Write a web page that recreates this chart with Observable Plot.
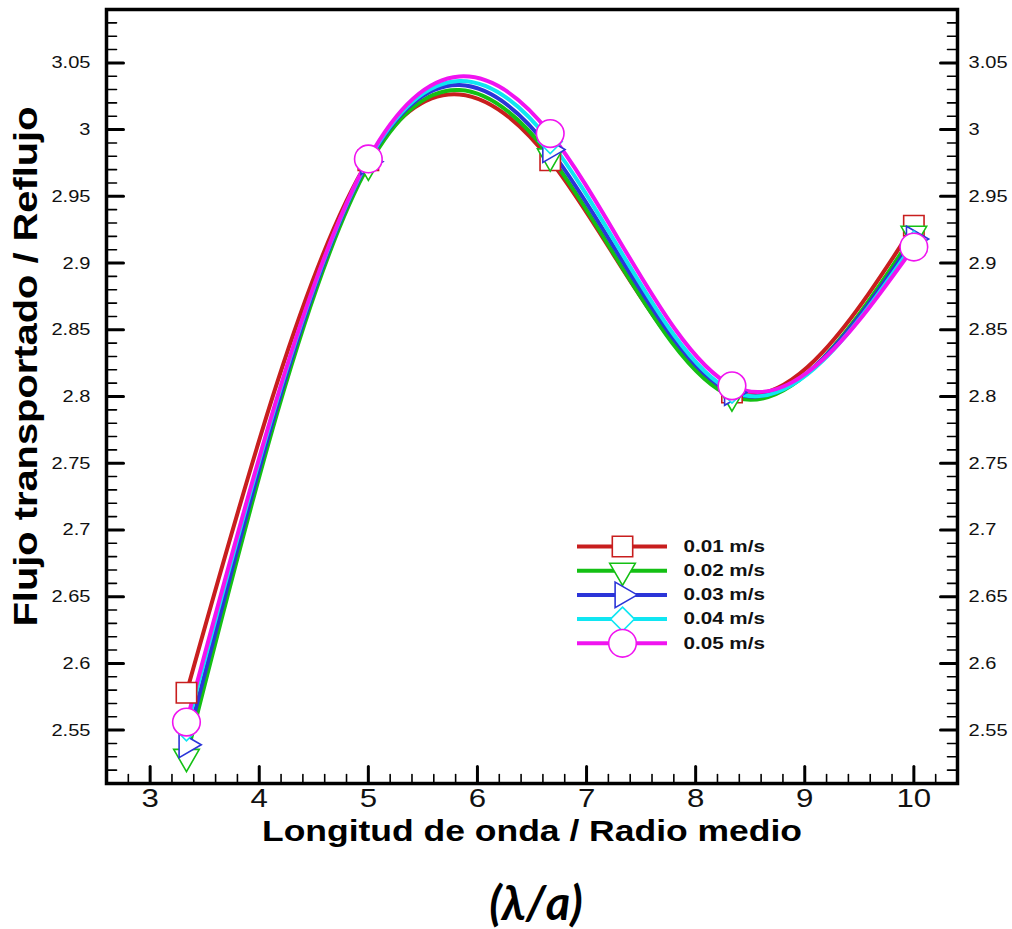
<!DOCTYPE html>
<html><head><meta charset="utf-8">
<script src="https://cdn.jsdelivr.net/npm/d3@7"></script>
<script src="https://cdn.jsdelivr.net/npm/@observablehq/plot@0.6"></script>
<style>
body{margin:0;background:#fff;}
#chart{width:1012px;height:929px;}
</style></head><body><div id="chart"></div>
<script>
// ---- data ----
const lambdaA = [3.333, 5, 6.667, 8.333, 10];
const seriesNames = ["0.01 m/s", "0.02 m/s", "0.03 m/s", "0.04 m/s", "0.05 m/s"];
const v001 = [2.578, 2.977, 2.977, 2.803, 2.928];
const v002 = [2.530, 2.973, 2.980, 2.800, 2.922];
const v003 = [2.539, 2.976, 2.985, 2.803, 2.918];
const v004 = [2.551, 2.977, 2.991, 2.804, 2.915];
const v005 = [2.556, 2.978, 2.997, 2.808, 2.912];
const seriesColors = ["#c81e1e", "#14c014", "#2b35d8", "#10e6f2", "#f014f0"];
const seriesSymbols = ["square", "triangle", "triangle", "diamond2", "circle"];
const symbolRotate = [0, 180, 90, 0, 0];
const symbolR = [11.5, 9.5, 9.5, 10.8, 13.8];
const xTicks = [3, 4, 5, 6, 7, 8, 9, 10];
const yTicks = [2.55, 2.6, 2.65, 2.7, 2.75, 2.8, 2.85, 2.9, 2.95, 3, 3.05];
const xTitle = "Longitud de onda / Radio medio";
const yTitle = "Flujo transportado / Reflujo";
const subTitle = "(\u03BB/a)";

// ---- layout ----
const W = 1012, H = 929, mL = 106, mR = 55, mT = 9, mB = 146;
const xDomain = [2.6, 10.4], yDomain = [2.51, 3.09];
const xs = Plot.scale({x: {domain: xDomain, range: [mL, W - mR]}});
const ys = Plot.scale({y: {domain: yDomain, range: [H - mB, mT]}});

const seriesValues = [v001, v002, v003, v004, v005];
const rows = seriesValues.flatMap((vals, i) => vals.map((v, j) => ({x: lambdaA[j], y: v, s: seriesNames[i], i})));

const xMinor = d3.range(28, 104, 2).map(d => d / 10).filter(d => Math.abs(d - Math.round(d)) > 1e-9);
const yMinor = d3.range(252, 309, 1).map(d => d / 100).filter(d => Math.abs(d * 20 - Math.round(d * 20)) > 1e-9);

const tickShape = {draw(ctx, l) { ctx.moveTo(0, 0); ctx.lineTo(0, -l); }};
const tickMarks = (vals, side, len, sw) => {
  const ch = side === "bottom" ? {x: d => d} : {y: d => d};
  const rot = side === "bottom" ? 0 : side === "left" ? 90 : -90;
  return Plot.vector(vals, {...ch, frameAnchor: side, length: len, rotate: rot, anchor: "start", shape: tickShape, stroke: "#000", strokeWidth: sw});
};

// legend (pixel positions converted through the scales)
const legX0 = xs.invert(577), legX1 = xs.invert(667), legXm = xs.invert(622), legXt = xs.invert(683);
const legY = seriesNames.map((s, i) => ys.invert(546 + i * 24.2));
const legRows = seriesNames.map((s, i) => ({s, i, y: legY[i]}));
const yTitleStart = ys.invert(626);

const marks = [
  tickMarks(xTicks, "bottom", 17, 3),
  tickMarks(xMinor, "bottom", 9, 1.6),
  tickMarks(yTicks, "left", 17, 3),
  tickMarks(yMinor, "left", 10, 1.6),
  tickMarks(yTicks, "right", 17, 3),
  tickMarks(yMinor, "right", 10, 1.6),
  Plot.line(rows, {x: "x", y: "y", z: "s", stroke: d => seriesColors[d.i], strokeWidth: 4, curve: "natural"}),
  ...seriesNames.map((s, i) => Plot.dot(rows.filter(d => d.i === i), {x: "x", y: "y", symbol: () => seriesSymbols[i], r: symbolR[i], rotate: symbolRotate[i], stroke: seriesColors[i], fill: "white", strokeWidth: 1.6})),
  // legend
  Plot.ruleY(legRows, {y: "y", x1: legX0, x2: legX1, stroke: d => seriesColors[d.i], strokeWidth: 4}),
  ...seriesNames.map((s, i) => Plot.dot([legRows[i]], {x: legXm, y: "y", symbol: () => seriesSymbols[i], r: symbolR[i], rotate: symbolRotate[i], stroke: seriesColors[i], fill: "white", strokeWidth: 1.6})),
  Plot.text(legRows, {x: legXt, y: "y", text: "s", textAnchor: "start", fontSize: 16.5, fontWeight: "bold", fill: "#111", className: "leglbl"}),
  // tick labels
  Plot.text(xTicks, {x: d => d, frameAnchor: "bottom", dy: 23, text: d => String(d), fontSize: 26, fill: "#111", className: "xticklbl"}),
  Plot.text(yTicks, {y: d => d, frameAnchor: "left", dx: -16, textAnchor: "end", text: d => String(d), fontSize: 17, fill: "#111", className: "ticklbl"}),
  Plot.text(yTicks, {y: d => d, frameAnchor: "right", dx: 11, textAnchor: "start", text: d => String(d), fontSize: 17, fill: "#111", className: "ticklbl"}),
  // titles
  Plot.text([xTitle], {frameAnchor: "bottom", dy: 57, text: d => d, fontSize: 30, fontWeight: "bold", fill: "#000", className: "xtitle"}),
  Plot.text([yTitle], {y: yTitleStart, frameAnchor: "left", dx: -80, rotate: -90, textAnchor: "start", text: d => d, fontSize: 34, fontWeight: "bold", fill: "#000", className: "ytitle"}),
  Plot.text([subTitle], {frameAnchor: "bottom", dy: 136, dx: 4, text: d => d, fontSize: 47, fontWeight: "bold", fontStyle: "italic", fontFamily: "Lato, 'Open Sans', sans-serif", fill: "#000", className: "subtitle"}),
  Plot.frame({stroke: "#000", strokeWidth: 3.5})
];

const chart = Plot.plot({
  width: W, height: H,
  marginLeft: mL, marginRight: mR, marginTop: mT, marginBottom: mB,
  x: {domain: xDomain, axis: null},
  y: {domain: yDomain, axis: null},
  style: {fontFamily: "'Liberation Sans', Arial, sans-serif", background: "white", overflow: "visible"},
  marks
});
document.getElementById("chart").append(chart);

// stretch text horizontally to match the reference's wide lettering
function stretch(cls, factor, target) {
  chart.querySelectorAll(`g.${cls} text`).forEach(t => {
    const len = t.getComputedTextLength();
    t.setAttribute("textLength", target ? target : len * factor);
    t.setAttribute("lengthAdjust", "spacingAndGlyphs");
  });
}
stretch("ticklbl", 1.18);
stretch("xticklbl", 1.2);
stretch("leglbl", 1.25);
stretch("xtitle", 0, 540);
stretch("ytitle", 0, 520);
</script></body></html>
